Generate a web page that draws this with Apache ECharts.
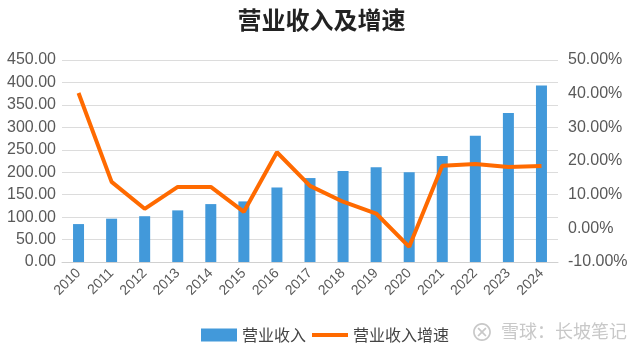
<!DOCTYPE html>
<html><head><meta charset="utf-8">
<script src="https://cdn.jsdelivr.net/npm/echarts@6/dist/echarts.min.js"></script>
<style>html,body{margin:0;padding:0;background:#fff}#c{width:643px;height:360px}</style>
</head><body><div id="c"></div>
<script>
const years = ['2010','2011','2012','2013','2014','2015','2016','2017','2018','2019','2020','2021','2022','2023','2024'];
const revenue = [84.5, 96.5, 102, 115, 129, 135, 166, 187, 203, 211, 200, 236, 281, 332, 393];
const growth = [40.2, 13.8, 5.8, 12.3, 12.3, 4.9, 22.6, 12.6, 7.9, 4.4, -5.5, 18.6, 19.1, 18.2, 18.5];
const leftTicks = [0, 450, 50];
const rightTicks = [-10, 50, 10];

const font = '"Noto Sans CJK SC", "Noto Sans", sans-serif';
const numFont = '"Liberation Sans", Arial, sans-serif';
const chart = echarts.init(document.getElementById('c'));
chart.setOption({
  animation: false,
  title: { text: '营业收入及增速', left: 'center', top: 3,
    textStyle: { fontFamily: font, fontSize: 24, fontWeight: 'bold', color: '#222' } },
  grid: { left: 62, right: 85, top: 60, bottom: 98 },
  legend: {
    data: [
      { name: '营业收入', icon: 'rect' },
      { name: '营业收入增速', icon: 'path://M0,0h36v4h-36z' }
    ],
    left: 196, top: 322,
    itemWidth: 36, itemHeight: 13, itemGap: 6,
    textStyle: { fontFamily: font, fontSize: 16, color: '#444' }
  },
  xAxis: {
    type: 'category', data: years,
    axisTick: { show: false },
    axisLine: { lineStyle: { color: '#d0d0d0' } },
    axisLabel: { rotate: 45, fontFamily: numFont, fontSize: 14, color: '#595959', margin: 9 }
  },
  yAxis: [
    { type: 'value', min: leftTicks[0], max: leftTicks[1], interval: leftTicks[2],
      axisLabel: { formatter: v => v.toFixed(2), fontFamily: numFont, fontSize: 16, color: '#595959', margin: 6 },
      splitLine: { lineStyle: { color: '#dcdcdc' } }, axisLine: { show: false }, axisTick: { show: false } },
    { type: 'value', min: rightTicks[0], max: rightTicks[1], interval: rightTicks[2],
      axisLabel: { formatter: v => v.toFixed(2) + '%', fontFamily: numFont, fontSize: 16, color: '#595959', margin: 10 },
      splitLine: { show: false }, axisLine: { show: false }, axisTick: { show: false } }
  ],
  series: [
    { name: '营业收入', type: 'bar', data: revenue, barWidth: 11,
      itemStyle: { color: '#4299DA' } },
    { name: '营业收入增速', type: 'line', yAxisIndex: 1, data: growth,
      symbol: 'none', lineStyle: { color: '#FF6A00', width: 4 }, itemStyle: { color: '#FF6A00' } }
  ],
  graphic: [
    { type: 'text', left: 470, top: 320,
      style: { text: '⊗', fontFamily: font, fontSize: 24, fill: '#c8c8c8' } },
    { type: 'text', left: 501, top: 322,
      style: { text: '雪球：长坡笔记', fontFamily: font, fontSize: 18, fill: '#c8c8c8' } }
  ]
});
</script></body></html>
